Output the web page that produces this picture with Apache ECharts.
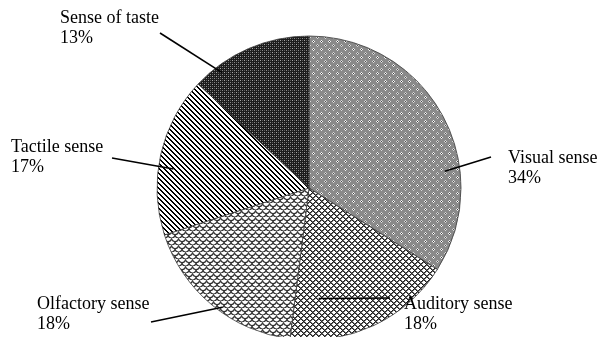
<!DOCTYPE html>
<html>
<head>
<meta charset="utf-8">
<script src="https://cdn.jsdelivr.net/npm/echarts@6/dist/echarts.min.js"></script>
<style>
  html, body { margin: 0; padding: 0; background: #fff; }
  #chart { width: 599px; height: 337px; }
</style>
</head>
<body>
<div id="chart"></div>
<script>
// Share of each sense, in percent, clockwise from 12 o'clock
const senses = ['Visual sense', 'Auditory sense', 'Olfactory sense', 'Tactile sense', 'Sense of taste'];
const shares = [34, 18, 18, 17, 13];

// Pie geometry
const CENTER = [309, 188];
const RADIUS = 152;

// Label placement: text top-left corner, leader line start (angle in degrees, fraction of radius)
// and leader line end point near the text.
const labelSpots = [
  { x: 508, y: 148, startAngle: 7,    startFrac: 0.90, end: [491, 157] },
  { x: 404, y: 294, startAngle: -85,  startFrac: 0.73, end: [390, 298] },
  { x: 37,  y: 294, startAngle: -126, startFrac: 0.97, end: [151, 322] },
  { x: 11,  y: 137, startAngle: 172,  startFrac: 0.90, end: [112, 158] },
  { x: 60,  y: 8,   startAngle: 127,  startFrac: 0.95, end: [160, 33] }
];

function makeTile(w, h, paint) {
  const c = document.createElement('canvas');
  c.width = w; c.height = h;
  const g = c.getContext('2d');
  paint(g, w, h);
  return c;
}
function px(g, x, y, color) { g.fillStyle = color; g.fillRect(x, y, 1, 1); }

// Fill textures, one per slice
const textures = [
  // grey field with small checkered clusters
  makeTile(8, 8, (g, w, h) => {
    g.fillStyle = '#8a8a8a'; g.fillRect(0, 0, w, h);
    [[1,0],[0,1],[2,1],[1,2]].forEach(p => px(g, p[0], p[1], '#f0f0f0'));
    px(g, 1, 1, '#3a3a3a');
    [[5,4],[4,5],[6,5],[5,6]].forEach(p => px(g, p[0], p[1], '#d8d8d8'));
    px(g, 5, 5, '#4a4a4a');
  }),
  // diagonal cross-hatch
  makeTile(6, 6, (g, w, h) => {
    g.fillStyle = '#ffffff'; g.fillRect(0, 0, w, h);
    for (let y = 0; y < h; y++) for (let x = 0; x < w; x++) {
      if ((x + y) % 6 === 0 || (x - y + 6) % 6 === 0) px(g, x, y, '#1e1e1e');
      else if ((x + y) % 6 === 1 || (x - y + 6) % 6 === 1) px(g, x, y, '#707070');
    }
  }),
  // shingle / scale texture
  makeTile(7, 7, (g, w, h) => {
    g.fillStyle = '#ffffff'; g.fillRect(0, 0, w, h);
    g.strokeStyle = '#333333'; g.lineWidth = 1.1;
    [[0, 0], [7, 0], [3.5, 3.5], [0, 7], [7, 7]].forEach(c => {
      g.beginPath(); g.arc(c[0], c[1], 3.5, 0.1, Math.PI - 0.1); g.stroke();
    });
  }),
  // diagonal stripes, falling to the right
  makeTile(5, 5, (g, w, h) => {
    g.fillStyle = '#ffffff'; g.fillRect(0, 0, w, h);
    for (let y = 0; y < h; y++) for (let x = 0; x < w; x++) {
      const k = (x - y + 5) % 5;
      if (k === 0 || k === 1) px(g, x, y, '#000000');
    }
  }),
  // near-black with a grey dot grid
  makeTile(4, 4, (g, w, h) => {
    g.fillStyle = '#1c1c1c'; g.fillRect(0, 0, w, h);
    px(g, 0, 0, '#a8a8a8');
    px(g, 2, 0, '#585858');
    px(g, 0, 2, '#585858');
    px(g, 2, 2, '#8a8a8a');
  })
];

// Leader lines from inside each slice to its label
function leaderLines() {
  return labelSpots.map(s => {
    const a = s.startAngle * Math.PI / 180;
    const r = RADIUS * s.startFrac;
    const start = [CENTER[0] + r * Math.cos(a), CENTER[1] - r * Math.sin(a)];
    return {
      type: 'polyline',
      z: 100,
      silent: true,
      shape: { points: [start, s.end] },
      style: { stroke: '#000000', lineWidth: 1.6, fill: null }
    };
  });
}

const chart = echarts.init(document.getElementById('chart'), null, { renderer: 'canvas' });

chart.setOption({
  animation: false,
  backgroundColor: '#ffffff',
  graphic: leaderLines(),
  series: [{
    type: 'pie',
    center: CENTER,
    radius: RADIUS,
    startAngle: 90,
    clockwise: true,
    avoidLabelOverlap: false,
    data: senses.map((name, i) => ({
      name: name,
      value: shares[i],
      itemStyle: { color: { image: textures[i], repeat: 'repeat' } }
    })),
    itemStyle: { borderColor: '#3a3a3a', borderWidth: 0.8 },
    label: {
      show: true,
      position: 'outside',
      formatter: '{b}\n{c}%',
      fontFamily: 'Liberation Serif',
      fontSize: 18,
      lineHeight: 20,
      color: '#000000'
    },
    labelLine: { show: false },
    emphasis: { disabled: true },
    labelLayout: function (params) {
      const s = labelSpots[params.dataIndex];
      return { x: s.x, y: s.y, align: 'left', verticalAlign: 'top' };
    }
  }]
});
</script>
</body>
</html>
